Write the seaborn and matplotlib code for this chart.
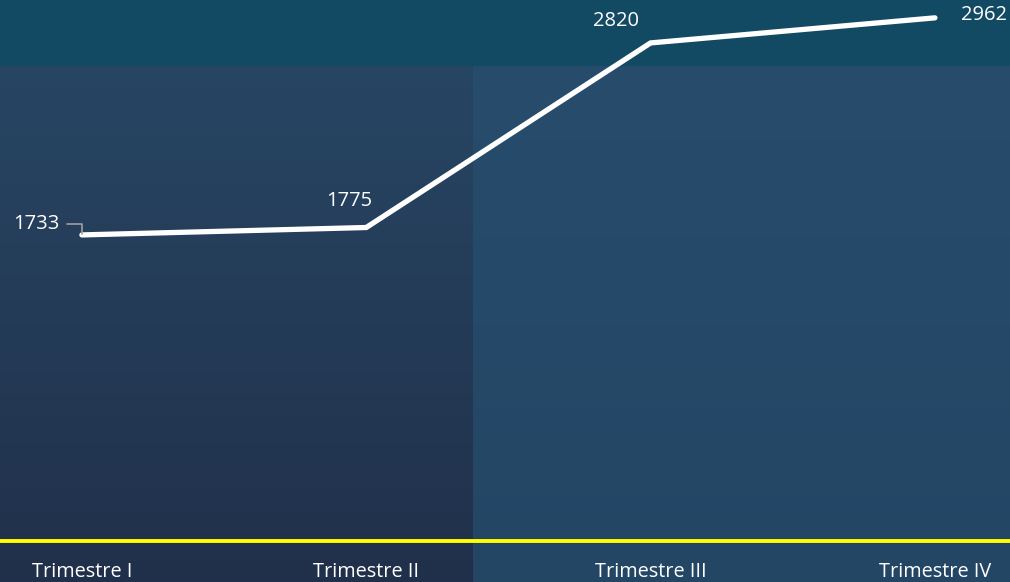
import numpy as np
import pandas as pd
import matplotlib
matplotlib.use("Agg")
import matplotlib.pyplot as plt
import seaborn as sns
from matplotlib.colors import LinearSegmentedColormap

quarters = ["Trimestre I", "Trimestre II", "Trimestre III", "Trimestre IV"]
values = [1733, 1775, 2820, 2962]

sns.set_theme(style="white")
plt.rcParams["font.family"] = ["Open Sans", "DejaVu Sans"]

df = pd.DataFrame({"quarter": quarters, "value": values, "pos": range(len(quarters))})

fig = plt.figure(figsize=(10.1, 5.82), dpi=100)
ax = fig.add_axes([0, 0, 1, 1])

# background panels (axes fraction)
left_cmap = LinearSegmentedColormap.from_list("l", ["#21304a", "#274664"])
right_cmap = LinearSegmentedColormap.from_list("r", ["#244665", "#274c6c"])
grad = np.linspace(0, 1, 256).reshape(-1, 1)
split = 473 / 1010
band = 1 - 65 / 582
ax.imshow(grad, cmap=left_cmap, aspect="auto", origin="lower",
          extent=[0, split, 0, band], transform=ax.transAxes, zorder=0)
ax.imshow(grad, cmap=right_cmap, aspect="auto", origin="lower",
          extent=[split, 1, 0, band], transform=ax.transAxes, zorder=0)
ax.add_patch(plt.Rectangle((0, band), 1, 1 - band, transform=ax.transAxes,
                           color="#134a63", zorder=0))

sns.lineplot(data=df, x="pos", y="value", color="white", linewidth=3.8,
             ax=ax, zorder=3, solid_capstyle="round", solid_joinstyle="miter")

ax.axhline(0, color="#ffff00", linewidth=2.8, zorder=2)

ax.set_xlim(-0.288, 3.264)
ax.set_ylim(-232, 3063)

# data labels
lab = dict(color="white", fontsize=14.5)
ax.annotate(str(values[0]), (0, values[0]), xytext=(-16, 8), textcoords="offset points",
            ha="right", va="center", zorder=4,
            arrowprops=dict(arrowstyle="-", color="#a0a0a0", lw=1.2,
                            connectionstyle="angle,angleA=0,angleB=90,rad=0",
                            shrinkA=3, shrinkB=1), **lab)
ax.annotate(str(values[1]), (1, values[1]), xytext=(-12, 19), textcoords="offset points",
            ha="center", va="center", **lab)
ax.annotate(str(values[2]), (2, values[2]), xytext=(-25, 16), textcoords="offset points",
            ha="center", va="center", **lab)
ax.annotate(str(values[3]), (3, values[3]), xytext=(35, 2), textcoords="offset points",
            ha="center", va="center", **lab)

# category labels
for i, q in enumerate(quarters):
    ax.text(i, -(572 - 541) * 5.66, q, color="white", fontsize=14.3,
            ha="center", va="center", zorder=4)

ax.set_xlabel("")
ax.set_ylabel("")
ax.set_xticks([])
ax.set_yticks([])
for s in ax.spines.values():
    s.set_visible(False)

fig.savefig("out.png", dpi=100)
